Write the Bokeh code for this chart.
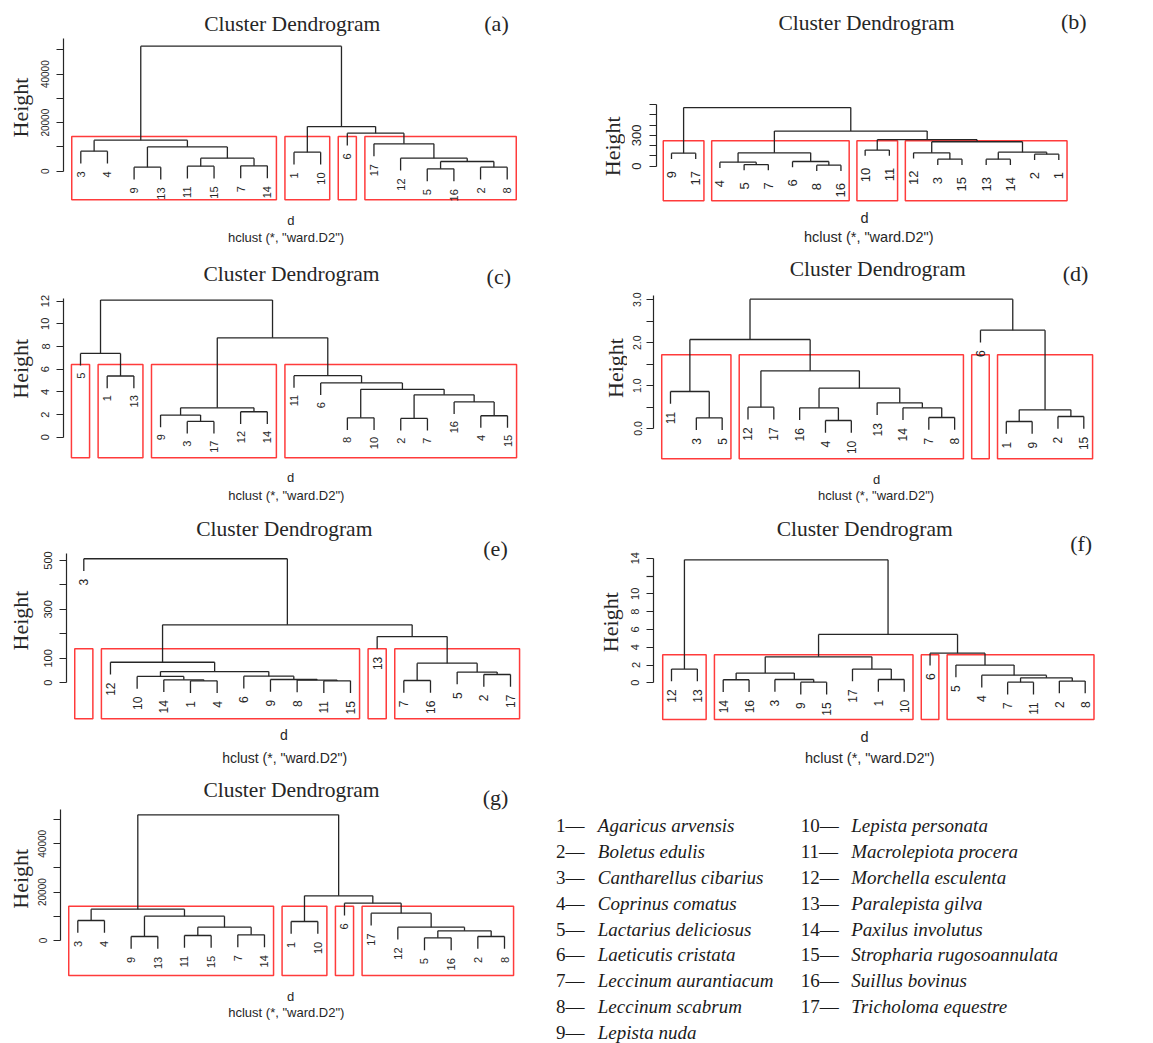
import math

from bokeh.core.properties import value
from bokeh.embed import file_html
from bokeh.layouts import column, row
from bokeh.models import ColumnDataSource, FixedTicker, Label, PrintfTickFormatter, Range1d
from bokeh.plotting import figure
from bokeh.resources import INLINE

SERIF = "Liberation Serif"
SANS = "Liberation Sans"
INK = "#262626"
BOX_RED = "#ff3b3b"
MID = 0.34  # distance from a text baseline to its vertical middle, in ems

# Specimens, numbered 1..17 in this order
species = [
    "Agaricus arvensis", "Boletus edulis", "Cantharellus cibarius", "Coprinus comatus",
    "Lactarius deliciosus", "Laeticutis cristata", "Leccinum aurantiacum", "Leccinum scabrum",
    "Lepista nuda", "Lepista personata", "Macrolepiota procera", "Morchella esculenta",
    "Paralepista gilva", "Paxilus involutus", "Stropharia rugosoannulata", "Suillus bovinus",
    "Tricholoma equestre",
]

# Ward (ward.D2) merge trees: a node is (height, left, right); leaves are specimen numbers
tree_a = (51550,
          (12780, (8250, 3, 4),
                  (10030, (1650, 9, 13), (5360, (2060, 11, 15), (2200, 7, 14)))),
          (18420, (7830, 1, 10),
                  (15670, 6, (11270, 17, (5360, 12, (3990, (960, 5, 16), (1650, 2, 8)))))))
tree_b = (571,
          (127, 9, 17),
          (342, (130, (39, 4, (16, 5, 7)), (46, 6, (10, 8, 16))),
                (258, (157, 10, 11),
                      (238, (130, 12, (68, 3, 15)), (137, (68, 13, 14), (117, 2, 1))))))
tree_c = (12.09,
          (7.39, 5, (5.40, 1, 13)),
          (8.76, (2.60, (1.96, 9, (1.40, 3, 17)), (2.25, 12, 14)),
                 (5.43, 11, (4.79, 6, (4.23, (1.72, 8, 10),
                                       (3.74, (1.66, 2, 7), (3.12, 16, (1.90, 4, 15))))))))
tree_d = (3.015,
          (2.075, (0.862, 11, (0.249, 3, 5)),
                  (1.344, (0.497, 12, 17),
                          (0.940, (0.482, 16, (0.186, 4, 10)),
                                  (0.598, 13, (0.482, 14, (0.256, 7, 8)))))),
          (2.292, 6, (0.435, (0.163, 1, 9), (0.280, 2, 15))))
tree_e = (507,
          3,
          (237, (84, 12, (46, (26, 10, (12, 14, (8, 1, 4))),
                              (27, 6, (13.5, 9, (11, 8, (8, 11, 15)))))),
                (189, 13, (80, (9.5, 7, 16), (44, 5, (34, 2, 17))))))
tree_f = (13.82,
          (1.54, 12, 13),
          (5.43, (2.92, (1.09, (0.34, 14, 16), (0.37, 3, (0.07, 9, 15))),
                        (1.54, 17, (0.37, 1, 10))),
                 (3.33, 6, (1.99, 5, (0.86, 4, (0.56, (0.07, 7, 11), (0.19, 2, 8)))))))
tree_g = (52000,
          (12970, (8280, 3, 4),
                  (10070, (1660, 9, 13), (5520, (2070, 11, 15), (2340, 7, 14)))),
          (18480, (7860, 1, 10),
                  (15450, 6, (11310, 17, (5520, 12, (4000, (1100, 5, 16), (1660, 2, 8)))))))

# Cluster membership outlined by the red boxes
groups_a = [[3, 4, 9, 13, 11, 15, 7, 14], [1, 10], [6], [17, 12, 5, 16, 2, 8]]
groups_b = [[9, 17], [4, 5, 7, 6, 8, 16], [10, 11], [12, 3, 15, 13, 14, 2, 1]]
groups_c = [[5], [1, 13], [9, 3, 17, 12, 14], [11, 6, 8, 10, 2, 7, 16, 4, 15]]
groups_d = [[11, 3, 5], [12, 17, 16, 4, 10, 13, 14, 7, 8], [6], [1, 9, 2, 15]]
groups_e = [[3], [12, 10, 14, 1, 4, 6, 9, 8, 11, 15], [13], [7, 16, 5, 2, 17]]
groups_f = [[12, 13], [14, 16, 3, 9, 15, 17, 1, 10], [6], [5, 4, 7, 11, 2, 8]]
groups_g = groups_a

# Height-axis ticks (labelled, unlabelled)
ticks_a = ([0, 20000, 40000], [10000, 30000, 50000])
ticks_b = ([0, 300], [100, 200, 400, 500, 600])
ticks_c = ([0, 2, 4, 6, 8, 10, 12], [])
ticks_d = ([0, 1, 2, 3], [0.5, 1.5, 2.5])
ticks_e = ([0, 100, 300, 500], [200, 400])
ticks_f = ([0, 2, 4, 6, 8, 10, 14], [12])
ticks_g = ticks_a

# Panel geometry (pixels inside each panel, text positions given at their baselines)
# and styling; "strip" is the width reserved at the left for the vertical axis title
geo = {
    "a": dict(size=(580, 255), strip=35, axis_x=63, leaf_px=(80.3, 506.7), zero_px=170.7,
              k=0.002425, axis_top=54600, box=(14300, -11800), tick_fs=10, leaf_fs=11,
              leaf_off=8, standoff=7, title=(291.7, 31.3), tag=(496, 30.3), ylab=(27.8, 107),
              xlab=(290.3, 224), sub=(285.5, 241.5), sub_fs=13),
    "b": dict(size=(573, 255), strip=45, axis_x=76, leaf_px=(91, 478.3), zero_px=165.7,
              k=0.1027, axis_top=600, box=(248, -336), tick_fs=13, leaf_fs=13, leaf_off=12,
              standoff=8, title=(286, 30), tag=(493.3, 28), ylab=(39.3, 145.8),
              xlab=(284, 222.7), sub=(288.3, 241.7), sub_fs=14.5),
    "c": dict(size=(580, 255), strip=35, axis_x=63.3, leaf_px=(80, 507), zero_px=181.8,
              k=11.35, axis_top=12.2, box=(6.42, -1.81), tick_fs=11, leaf_fs=11, leaf_off=7,
              standoff=7, title=(291, 25.5), tag=(498.3, 28.3), ylab=(27.8, 113.3),
              xlab=(290, 226.5), sub=(285.8, 244), sub_fs=13),
    "d": dict(size=(573, 255), strip=47, axis_x=72.7, leaf_px=(90, 503.3), zero_px=173,
              k=42.9, axis_top=3.1, box=(1.717, -0.707), tick_fs=10.5, leaf_fs=12, leaf_off=8,
              standoff=5, title=(297.2, 21), tag=(495, 25.7), ylab=(42.8, 112.5),
              xlab=(296, 228.3), sub=(295.5, 244), sub_fs=13, fmt="%.1f"),
    "e": dict(size=(580, 260), strip=36, axis_x=65.7, leaf_px=(83.3, 510), zero_px=172.3,
              k=0.2447, axis_top=527, box=(139, -147), tick_fs=11, leaf_fs=12, leaf_off=8,
              standoff=7, title=(283.8, 25.7), tag=(495, 45.7), ylab=(27.8, 110),
              xlab=(283.3, 229.3), sub=(284.2, 252.5), sub_fs=14),
    "f": dict(size=(573, 260), strip=44, axis_x=72.7, leaf_px=(91, 504.7), zero_px=172.3,
              k=8.9, axis_top=14, box=(3.15, -4.12), tick_fs=11, leaf_fs=12, leaf_off=8,
              standoff=7, title=(284.2, 26), tag=(500.7, 40.7), ylab=(37.8, 111.7),
              xlab=(284, 231.7), sub=(289.2, 252.7), sub_fs=14.5),
    "g": dict(size=(545, 273), strip=34, axis_x=60, leaf_px=(77.3, 504), zero_px=170,
              k=0.002417, axis_top=54070, box=(14200, -14480), tick_fs=10, leaf_fs=11,
              leaf_off=8, standoff=7, title=(291, 27.3), tag=(495, 34.3), ylab=(27.8, 108.3),
              xlab=(290, 230), sub=(285.8, 246.7), sub_fs=13),
}


def dendrogram(tree):
    """Leaf order, branch segments and hanging leaf ends of an hclust-style tree."""
    order, heights = [], []

    def walk(n):
        if isinstance(n, int):
            order.append(n)
        else:
            heights.append(n[0])
            walk(n[1])
            walk(n[2])

    walk(tree)
    hang = 0.1 * (max(heights) - min(heights))
    pos = {leaf: i + 1 for i, leaf in enumerate(order)}
    seg = dict(x0=[], y0=[], x1=[], y1=[])
    leaves = dict(x=[], y=[], text=[])

    def place(n, parent_h):
        if isinstance(n, int):
            y = parent_h - hang
            leaves["x"].append(pos[n])
            leaves["y"].append(y)
            leaves["text"].append(str(n))
            return pos[n], y
        h, a, b = n
        xa, ya = place(a, h)
        xb, yb = place(b, h)
        for x0, y0, x1, y1 in ((xa, ya, xa, h), (xa, h, xb, h), (xb, h, xb, yb)):
            seg["x0"].append(x0)
            seg["y0"].append(y0)
            seg["x1"].append(x1)
            seg["y1"].append(y1)
        return (xa + xb) / 2, h

    place(tree, tree[0])
    return pos, seg, leaves


def bare(width, height, x_range, y_range):
    p = figure(frame_width=width, frame_height=height, min_border=0,
               x_range=x_range, y_range=y_range,
               x_axis_location=None, y_axis_location=None,
               output_backend="svg", toolbar_location=None)
    p.outline_line_color = None
    p.grid.visible = False
    return p


def height_strip(g):
    """Narrow strip carrying the vertical 'Height' axis title."""
    W, H = g["size"]
    sw = g["strip"]
    s = bare(sw, H, Range1d(0, sw), Range1d(0, H))
    bx, cy = g["ylab"]
    s.text(x=[bx - MID * 22], y=[H - cy], text=["Height"], angle=math.pi / 2,
           text_align="center", text_baseline="middle", text_font=value(SERIF),
           text_font_size="22px", text_color=INK)
    return s


def make_panel(tree, groups, ticks, tag, g):
    W, H = g["size"]
    sw = g["strip"]
    L = int(round(g["axis_x"] - sw))
    p1, p17 = g["leaf_px"]
    s = (p17 - p1) / 16
    x_start = 1 - (p1 - sw - L) / s
    x_end = 17 + (W - p17) / s
    z, k = g["zero_px"], g["k"]

    p = figure(frame_width=W - sw - L, frame_height=H,
               min_border_left=L, min_border_right=0,
               min_border_top=0, min_border_bottom=0,
               x_range=Range1d(x_start, x_end), y_range=Range1d(-(H - z) / k, z / k),
               x_axis_location=None, y_axis_location="left",
               output_backend="svg", toolbar_location=None)
    p.outline_line_color = None
    p.grid.visible = False

    def X(px):
        return x_start + (px - sw - L) / s

    def Y(py):
        return (z - py) / k

    # height axis
    ax = p.yaxis[0]
    ax.ticker = FixedTicker(ticks=ticks[0], minor_ticks=ticks[1])
    ax.bounds = (0, g["axis_top"])
    ax.axis_line_color = INK
    ax.axis_line_width = 1.2
    ax.major_tick_in = 0
    ax.major_tick_out = 7
    ax.minor_tick_in = 0
    ax.minor_tick_out = 7
    ax.major_tick_line_color = INK
    ax.minor_tick_line_color = INK
    ax.major_tick_line_width = 1.2
    ax.minor_tick_line_width = 1.2
    ax.major_label_orientation = "vertical"
    ax.major_label_text_font = SANS
    ax.major_label_text_font_size = f"{g['tick_fs']}px"
    ax.major_label_text_color = INK
    ax.major_label_standoff = g["standoff"]
    if g.get("fmt"):
        ax.formatter = PrintfTickFormatter(format=g["fmt"])

    pos, seg, leaves = dendrogram(tree)

    # cluster boxes
    top, bottom = g["box"]
    boxes = dict(left=[], right=[], top=[], bottom=[])
    for grp in groups:
        xs = [pos[leaf] for leaf in grp]
        boxes["left"].append(min(xs) - 0.34)
        boxes["right"].append(max(xs) + 0.34)
        boxes["top"].append(top)
        boxes["bottom"].append(bottom)
    p.quad(left="left", right="right", top="top", bottom="bottom",
           source=ColumnDataSource(boxes), fill_color=None,
           line_color=BOX_RED, line_width=1.5)

    # branches
    p.segment(x0="x0", y0="y0", x1="x1", y1="y1", source=ColumnDataSource(seg),
              line_color=INK, line_width=1.3)

    # leaf labels hang below each leaf end
    p.text(x="x", y="y", text="text", source=ColumnDataSource(leaves),
           angle=math.pi / 2, text_align="right", text_baseline="middle",
           y_offset=g["leaf_off"], text_font=value(SANS),
           text_font_size=f"{g['leaf_fs']}px", text_color=INK)

    def note(xy, text, font, size):
        p.add_layout(Label(x=X(xy[0]), y=Y(xy[1] - MID * size), text=text, text_font=font,
                           text_font_size=f"{size}px", text_color=INK,
                           text_align="center", text_baseline="middle"))

    note(g["title"], "Cluster Dendrogram", SERIF, 21.5)
    note(g["tag"], tag, SERIF, 22)
    note(g["xlab"], "d", SANS, g["sub_fs"])
    note(g["sub"], 'hclust (*, "ward.D2")', SANS, g["sub_fs"])
    return [height_strip(g), p]


def make_key(W, H):
    p = bare(W, H, Range1d(0, W), Range1d(H, 0))
    per_col = 9
    num = dict(x=[], y=[], text=[])
    name = dict(x=[], y=[], text=[])
    for i, sp in enumerate(species):
        c, r = divmod(i, per_col)
        y = 61.7 - MID * 19 + r * 25.84
        num["x"].append(10.5 + c * 244.8)
        num["y"].append(y)
        num["text"].append(f"{i + 1}\u2014")
        name["x"].append(52.3 + c * 253.4)
        name["y"].append(y)
        name["text"].append(sp)
    common = dict(text_baseline="middle", text_align="left",
                  text_font=value(SERIF), text_font_size="19px", text_color="#1a1a1a")
    p.text(x="x", y="y", text="text", source=ColumnDataSource(num), **common)
    p.text(x="x", y="y", text="text", source=ColumnDataSource(name),
           text_font_style="italic", **common)
    return p


pa = make_panel(tree_a, groups_a, ticks_a, "(a)", geo["a"])
pb = make_panel(tree_b, groups_b, ticks_b, "(b)", geo["b"])
pc = make_panel(tree_c, groups_c, ticks_c, "(c)", geo["c"])
pd = make_panel(tree_d, groups_d, ticks_d, "(d)", geo["d"])
pe = make_panel(tree_e, groups_e, ticks_e, "(e)", geo["e"])
pf = make_panel(tree_f, groups_f, ticks_f, "(f)", geo["f"])
pg = make_panel(tree_g, groups_g, ticks_g, "(g)", geo["g"])
key = make_key(608, 273)

layout = column(row(*pa, *pb), row(*pc, *pd), row(*pe, *pf), row(*pg, key))

with open("out.html", "w") as fh:
    fh.write(file_html(layout, INLINE))
